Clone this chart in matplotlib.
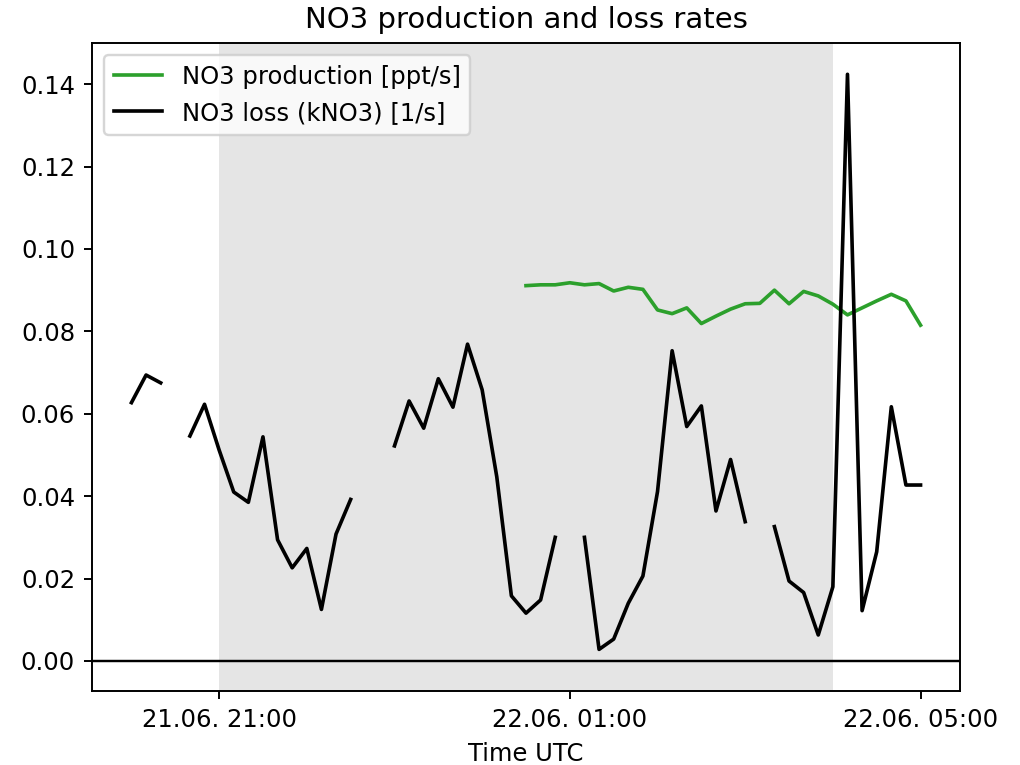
import numpy as np
import pandas as pd
import matplotlib
matplotlib.use("Agg")
import matplotlib.pyplot as plt
import matplotlib.dates as mdates

nan = np.nan
times = pd.date_range("2021-06-21 20:00", "2021-06-22 05:00", freq="10min")

no3_loss = [
    0.0627, 0.0694, 0.0675, nan, 0.0546, 0.0623, 0.0512, 0.0410, 0.0385, 0.0544,
    0.0294, 0.0226, 0.0273, 0.0125, 0.0308, 0.0392, nan, nan, 0.0522, 0.0631,
    0.0565, 0.0685, 0.0616, 0.0769, 0.0658, 0.0447, 0.0158, 0.0116, 0.0148, 0.0300,
    nan, 0.0300, 0.0028, 0.0053, 0.0140, 0.0206, 0.0411, 0.0753, 0.0569, 0.0619,
    0.0364, 0.0489, 0.0338, nan, 0.0326, 0.0194, 0.0166, 0.0063, 0.0180, 0.1424,
    0.0122, 0.0265, 0.0617, 0.0427, 0.0427,
]

no3_prod = [nan] * 27 + [
    0.0911, 0.0913, 0.0913, 0.0918, 0.0913, 0.0916, 0.0898, 0.0907, 0.0902, 0.0852,
    0.0843, 0.0857, 0.0819, 0.0837, 0.0854, 0.0867, 0.0868, 0.0900, 0.0867, 0.0897,
    0.0886, 0.0866, 0.0840, 0.0857, 0.0874, 0.0890, 0.0874, 0.0815,
]

night_start = pd.Timestamp("2021-06-21 21:00")
night_end = pd.Timestamp("2021-06-22 04:00")

DPI = 174.5
fig = plt.figure(figsize=(1020 / DPI, 765 / DPI), dpi=DPI)
ax = fig.add_axes([92/1020, 74/765, 868/1020, 648/765])

ax.axvspan(night_start, night_end, color="grey", alpha=0.2, lw=0)
ax.plot(times, no3_prod, color="tab:green", lw=1.5, label="NO3 production [ppt/s]")
ax.plot(times, no3_loss, color="black", lw=1.5, label="NO3 loss (kNO3) [1/s]")
ax.axhline(0, color="black", lw=1)

ax.set_ylim(-0.0073, 0.150)
ax.xaxis.set_major_locator(mdates.HourLocator(byhour=[1, 5, 9, 13, 17, 21]))
ax.xaxis.set_major_formatter(mdates.DateFormatter("%d.%m. %H:%M"))
ax.set_xlabel("Time UTC")
ax.set_title("NO3 production and loss rates")
ax.legend(loc="upper left")

fig.savefig("out.png", dpi=DPI)
